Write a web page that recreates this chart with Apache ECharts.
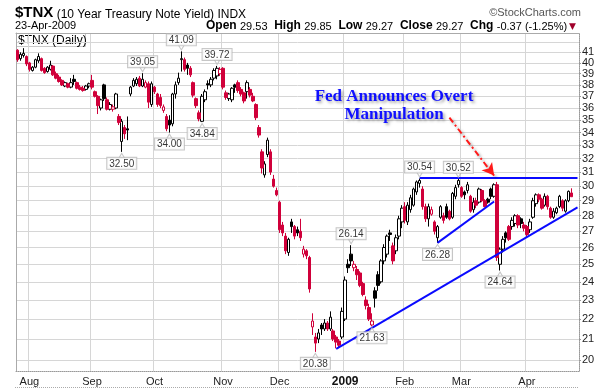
<!DOCTYPE html>
<html><head><meta charset="utf-8">
<script src="https://cdn.jsdelivr.net/npm/echarts@6/dist/echarts.min.js"></script>
<style>html,body{margin:0;padding:0;background:#fff}#c{width:604px;height:388px}</style>
</head><body><div id="c"></div>
<script>
// ---- trading calendar (categories) ----
const tradingDays = [
  ['2008-07', [28,29,30,31]],
  ['2008-08', [1,4,5,6,7,8,11,12,13,14,15,18,19,20,21,22,25,26,27,28,29]],
  ['2008-09', [2,3,4,5,8,9,10,11,12,15,16,17,18,19,22,23,24,25,26,29,30]],
  ['2008-10', [1,2,3,6,7,8,9,10,13,14,15,16,17,20,21,22,23,24,27,28,29,30,31]],
  ['2008-11', [3,4,5,6,7,10,11,12,13,14,17,18,19,20,21,24,25,26,28]],
  ['2008-12', [1,2,3,4,5,8,9,10,11,12,15,16,17,18,19,22,23,24,26,29,30,31]],
  ['2009-01', [2,5,6,7,8,9,12,13,14,15,16,20,21,22,23,26,27,28,29,30]],
  ['2009-02', [2,3,4,5,6,9,10,11,12,13,17,18,19,20,23,24,25,26,27]],
  ['2009-03', [2,3,4,5,6,9,10,11,12,13,16,17,18,19,20,23,24,25,26,27,30,31]],
  ['2009-04', [1,2,3,6,7,8,9,13,14,15,16,17,20,21,22,23]]
];
const monthNames = ['Jan','Feb','Mar','Apr','May','Jun','Jul','Aug','Sep','Oct','Nov','Dec'];

// ---- daily OHLC of $TNX (yield x10) ----
const opens = [
 41.2,40.4,40.7,40.6,
 40.0,39.3,39.6,40.2,40.4,39.5,39.2,39.4,39.7,39.0,38.7,38.4,37.9,38.1,37.8,38.5,38.2,37.8,37.7,37.6,37.9,
 38.4,37.4,37.0,36.0,38.0,36.7,35.9,35.9,36.0,35.3,33.3,34.4,34.3,37.2,37.9,38.1,38.6,37.9,37.8,38.1,36.3,
 37.8,37.2,36.9,35.8,35.3,35.0,34.7,37.2,38.2,40.3,40.3,39.8,39.5,38.2,36.8,35.6,34.9,36.7,38.1,38.0,38.6,38.8,39.0,
 39.5,37.3,36.8,36.7,38.0,38.2,37.6,37.3,37.4,37.6,37.0,36.3,34.4,32.5,30.8,32.3,32.5,30.5,29.7,
 28.9,27.4,26.7,25.7,27.6,27.3,27.1,27.0,25.6,25.8,25.4,21.6,21.1,21.0,21.7,21.5,21.8,21.5,21.4,21.1,20.9,21.1,
 22.0,25.0,25.6,24.8,24.7,24.5,23.9,23.0,22.6,21.7,23.5,24.4,24.0,25.2,25.6,26.9,26.1,25.8,26.7,27.6,
 28.6,27.6,28.4,28.7,29.6,30.2,29.8,28.6,27.8,28.1,27.6,26.6,27.9,28.0,28.6,28.3,27.9,29.3,30.1,
 29.9,29.6,29.7,29.3,28.4,29.0,28.9,29.7,29.0,29.1,29.8,29.3,30.1,25.0,25.9,26.9,27.3,27.3,27.5,28.0,27.8,27.4,
 27.3,27.1,27.9,28.8,29.4,29.1,28.7,29.3,28.5,27.9,28.2,28.6,29.0,28.3,29.0,29.53
];
const highs = [
 41.3,41.0,41.4,40.7,
 40.1,39.7,40.4,40.9,40.5,39.6,39.7,40.2,39.8,39.2,38.9,38.5,38.3,38.2,38.6,38.9,38.3,38.0,37.9,38.0,38.2,
 38.9,37.5,37.1,36.8,38.1,36.9,36.5,36.3,37.3,35.5,35.1,34.6,35.3,37.9,38.6,38.7,38.8,39.05,38.4,38.3,38.3,
 37.9,37.3,37.2,36.3,35.5,35.4,37.3,38.3,39.1,41.09,40.5,40.0,39.7,38.3,36.9,35.8,37.2,37.6,38.4,38.7,39.5,39.72,39.6,
 39.6,37.5,37.3,37.8,38.1,38.4,37.8,37.4,38.4,37.8,37.3,36.4,34.6,32.7,31.8,33.6,32.7,30.8,29.9,
 29.0,27.6,26.9,26.6,27.8,27.4,27.3,27.8,26.1,25.9,25.5,22.3,21.3,21.5,21.8,22.0,21.9,22.4,21.5,21.2,21.0,22.6,
 24.3,25.3,26.14,25.2,24.9,24.6,24.0,23.2,22.8,22.3,23.7,24.6,25.3,26.2,26.8,27.1,26.3,26.8,28.0,28.7,
 28.9,28.9,29.4,29.9,30.4,30.54,30.0,28.8,28.8,28.6,27.7,27.4,28.7,28.2,28.8,28.4,29.6,30.1,30.52,
 30.0,29.7,30.3,29.4,29.2,29.2,29.9,29.8,29.1,29.2,29.9,30.2,30.3,26.0,26.7,27.0,27.4,27.9,28.1,28.1,27.9,27.6,
 27.4,27.8,29.2,29.5,29.5,29.2,29.5,29.4,28.6,28.5,28.6,29.4,29.1,29.1,29.7,29.85
];
const lows = [
 40.1,40.2,40.5,39.7,
 39.2,39.2,39.5,40.0,39.2,39.0,39.1,39.3,38.8,38.5,38.2,37.9,37.8,37.7,37.7,38.0,37.6,37.5,37.4,37.5,37.7,
 37.6,36.9,35.5,35.8,36.6,35.8,35.8,35.7,35.9,34.6,32.5,33.5,33.4,37.0,37.8,37.9,37.8,37.8,37.7,36.0,36.1,
 37.2,36.1,36.0,35.6,34.1,34.0,34.5,36.8,38.0,39.2,39.2,38.9,38.7,36.9,36.0,34.9,34.84,36.5,37.6,37.8,38.4,38.5,38.8,
 37.6,36.7,36.6,36.5,37.3,37.3,37.0,36.4,36.8,36.9,36.5,35.0,33.6,30.9,30.6,32.1,30.8,29.9,29.3,
 26.9,26.7,25.6,25.5,26.9,26.5,26.7,26.4,25.4,25.3,23.4,21.2,20.38,20.8,21.2,21.4,21.4,21.4,20.9,20.55,20.6,21.0,
 21.9,24.5,24.9,24.6,24.1,23.7,23.2,22.5,21.9,21.63,22.6,23.5,23.9,25.0,25.4,26.4,25.0,25.6,26.5,27.2,
 27.5,27.4,28.2,28.6,29.4,29.9,28.4,27.6,27.3,28.0,26.8,26.28,27.8,27.5,27.8,27.7,27.8,29.1,29.9,
 29.2,29.1,29.5,28.2,28.2,28.5,28.8,28.9,28.55,28.8,29.1,29.2,25.2,24.64,25.7,26.3,26.4,27.1,27.3,27.2,27.2,27.0,
 26.6,26.9,27.8,28.6,28.9,28.4,28.6,28.4,27.8,27.8,28.1,28.5,28.3,28.2,28.9,29.27
];
const closes = [
 40.3,40.8,40.9,39.9,
 39.4,39.6,40.3,40.6,39.3,39.1,39.6,39.8,38.9,38.6,38.3,38.0,38.2,37.8,38.2,38.3,37.7,37.6,37.5,37.9,38.1,
 37.8,37.0,36.2,36.7,36.8,35.9,36.3,36.1,37.2,34.8,34.9,33.9,34.2,37.8,38.4,38.5,37.9,38.5,38.2,36.5,38.1,
 37.4,36.3,36.2,36.1,34.3,34.6,37.2,38.0,38.6,40.4,39.4,39.5,38.9,37.1,36.2,35.1,37.0,37.4,38.0,38.5,39.3,39.5,39.4,
 37.8,36.9,37.2,37.7,37.8,37.5,37.2,36.6,38.2,37.1,36.6,35.2,33.8,31.3,31.6,33.4,31.0,30.0,29.4,
 27.1,26.9,25.8,26.5,27.3,26.7,26.9,26.6,25.9,25.5,23.6,21.9,20.8,21.3,21.5,21.8,21.5,22.1,21.0,20.85,20.7,22.4,
 24.1,24.8,25.2,25.0,24.4,23.8,23.3,22.7,22.0,21.9,23.1,23.8,25.2,26.0,26.7,26.8,25.2,26.6,27.8,28.5,
 27.7,28.7,29.2,29.8,30.3,30.4,28.6,27.8,28.6,28.4,27.0,27.3,28.6,27.7,27.9,27.8,29.5,29.9,30.4,
 29.3,29.4,30.1,28.3,28.9,28.7,29.8,29.0,28.6,28.9,29.3,30.1,25.4,25.9,26.5,26.6,26.5,27.7,28.0,27.4,27.5,27.2,
 26.8,27.6,29.0,29.4,29.1,28.5,29.3,28.6,27.9,28.3,28.5,29.3,28.5,29.0,29.64,29.27
];
const priorClose = 41.4;

// ---- right axis tick labels ----
const yTickLabels = [20,21,22,23,24,25,26,27,28,29,30,31,32,33,34,35,36,37,38,39,40,41,42];

// ---- labelled highs / lows ----
const calloutIdx   = [55, 42, 35, 51, 62, 67, 112, 100, 119, 135, 148, 141, 162];
const calloutValue = [41.09, 39.05, 32.50, 34.00, 34.84, 39.72, 26.14, 20.38, 21.63, 30.54, 30.52, 26.28, 24.64];
const calloutSide  = ['top','top','bottom','bottom','bottom','top','top','bottom','bottom','top','top','bottom','bottom'];

// ---- drawn trend lines [startIdx, startVal, endIdx, endVal] ----
const trendLines = [
  [135, 30.57, 188, 30.57],
  [107, 20.52, 188, 28.55],
  [141, 26.28, 160, 28.95]
];
const arrowLine = [145, 35.2, 160, 30.75];

// ================= build =================
const ln = Math.log;
const categories = [];
tradingDays.forEach(([ym, days]) => days.forEach(d => categories.push(ym + '-' + String(d).padStart(2, '0'))));
const nDays = categories.length;
categories.push('pad0', 'pad1');
const monthStart = new Set();
for (let i = 1; i < nDays; i++) if (categories[i].slice(0, 7) !== categories[i - 1].slice(0, 7)) monthStart.add(i);

const blackData = [], redData = [];
for (let i = 0; i < nDays; i++) {
  const prev = i === 0 ? priorClose : closes[i - 1];
  const row = [ln(opens[i]), ln(closes[i]), ln(lows[i]), ln(highs[i])];
  if (closes[i] >= prev) { blackData.push(row); redData.push('-'); }
  else { redData.push(row); blackData.push('-'); }
}
const yMin = ln(19.49), yMax = ln(42.89);
const yTicks = yTickLabels.map(v => ln(v));
const RED = '#d0003a';

const calloutTop = [], calloutBottom = [];
calloutIdx.forEach((ix, k) => {
  const item = { value: [ix, ln(calloutValue[k])], txt: calloutValue[k].toFixed(2) };
  (calloutSide[k] === 'top' ? calloutTop : calloutBottom).push(item);
});

const labelStyle = {
  show: true, formatter: p => p.data.txt, fontSize: 10, fontFamily: 'Liberation Sans, Arial',
  color: '#000', backgroundColor: '#fff', borderColor: '#b8b8b8', borderWidth: 1,
  padding: [1, 2, 0, 2], lineHeight: 10, distance: 6
};

const chart = echarts.init(document.getElementById('c'), null, { renderer: 'canvas' });
chart.setOption({
  animation: false,
  backgroundColor: '#fff',
  textStyle: { fontFamily: 'Liberation Sans, Arial' },
  grid: { left: 16, right: 25, top: 33, bottom: 16, containLabel: false },
  xAxis: [{
    type: 'category', data: categories, boundaryGap: true, position: 'bottom',
    axisLine: { show: true, lineStyle: { color: '#999', type: 'dotted' } },
    axisTick: { show: false },
    axisLabel: {
      interval: i => monthStart.has(i), margin: 5, fontSize: 11, color: '#222',
      formatter: v => v.startsWith('2009-01') ? '{b|2009}' : monthNames[parseInt(v.slice(5, 7), 10) - 1],
      rich: { b: { fontWeight: 'bold', fontSize: 12, color: '#111' } }
    },
    splitLine: { show: true, interval: i => monthStart.has(i), lineStyle: { color: '#d6d6d6', width: 1 } }
  }, {
    type: 'category', data: categories, boundaryGap: true, position: 'top',
    axisLine: { show: true, lineStyle: { color: '#aaa' } },
    axisTick: { show: false }, axisLabel: { show: false }, splitLine: { show: false }
  }],
  yAxis: [{
    type: 'value', position: 'right', min: yMin, max: yMax, scale: true,
    axisLine: { show: true, lineStyle: { color: '#999', type: 'dotted' } },
    axisTick: { show: true, length: 2, customValues: yTicks, lineStyle: { color: '#999' } },
    axisLabel: { customValues: yTicks, formatter: v => String(Math.round(Math.exp(v))), fontSize: 11, color: '#222', margin: 3 },
    splitLine: { show: true, lineStyle: { color: '#d6d6d6', width: 1 } }
  }, {
    type: 'value', position: 'left', min: yMin, max: yMax,
    axisLine: { show: true, lineStyle: { color: '#aaa' } },
    axisTick: { show: false }, axisLabel: { show: false }, splitLine: { show: false }
  }],
  series: [
    {
      name: 'up', type: 'candlestick', data: blackData, barWidth: 3,
      itemStyle: { color: '#fff', color0: '#000', borderColor: '#000', borderColor0: '#000', borderWidth: 1 },
      markLine: {
        silent: true, symbol: ['none', 'none'], label: { show: false },
        lineStyle: { color: '#0a0aff', width: 2, type: 'solid' },
        data: trendLines.map(t => [{ coord: [t[0], ln(t[1])] }, { coord: [t[2], ln(t[3])] }])
      }
    },
    {
      name: 'down', type: 'candlestick', data: redData, barWidth: 3,
      itemStyle: { color: '#fff', color0: RED, borderColor: RED, borderColor0: RED, borderWidth: 1 },
      markLine: {
        silent: true, symbol: ['none', 'arrow'], symbolSize: [10, 12], label: { show: false },
        lineStyle: { color: '#ff1a1a', width: 2, type: [6, 3, 2, 3], shadowColor: 'rgba(0,0,0,0.35)', shadowBlur: 3, shadowOffsetX: 2, shadowOffsetY: 2 },
        data: [[{ coord: [arrowLine[0], ln(arrowLine[1])] }, { coord: [arrowLine[2], ln(arrowLine[3])] }]]
      }
    },
    {
      type: 'scatter', data: calloutTop, symbol: 'triangle', symbolSize: [6, 5], symbolRotate: 180,
      symbolOffset: [0, -4], itemStyle: { color: '#fff', borderColor: '#b8b8b8', borderWidth: 1 }, silent: true, z: 5
    },
    {
      type: 'scatter', data: calloutBottom, symbol: 'triangle', symbolSize: [6, 5],
      symbolOffset: [0, 4], itemStyle: { color: '#fff', borderColor: '#b8b8b8', borderWidth: 1 }, silent: true, z: 5
    },
    {
      type: 'scatter', data: calloutTop, symbolSize: 0, silent: true, z: 6,
      label: Object.assign({}, labelStyle, { position: 'top' })
    },
    {
      type: 'scatter', data: calloutBottom, symbolSize: 0, silent: true, z: 6,
      label: Object.assign({}, labelStyle, { position: 'bottom' })
    }
  ],
  graphic: [
    { type: 'text', x: 15, y: 13, z: 100, style: {
        text: '{a|$TNX} {b|(10 Year Treasury Note Yield) INDX}', verticalAlign: 'middle',
        rich: { a: { font: 'bold 15px "Liberation Sans"', fill: '#000', verticalAlign: 'bottom' },
                b: { font: '12px "Liberation Sans"', fill: '#000', verticalAlign: 'bottom' } } } },
    { type: 'text', x: 581, y: 13, z: 100, style: { text: '©StockCharts.com', font: '11px "Liberation Sans"', fill: '#555', align: 'right', verticalAlign: 'middle' } },
    { type: 'text', x: 15, y: 26, z: 100, style: { text: '23-Apr-2009', font: '11px "Liberation Sans"', fill: '#000', verticalAlign: 'middle' } },
    { type: 'text', x: 576, y: 26, z: 100, style: {
        text: '{k|Open} {v|29.53}  {k|High} {v|29.85}  {k|Low} {v|29.27}  {k|Close} {v|29.27}  {k|Chg} {v|-0.37 (-1.25%)}{t|▼}',
        align: 'right', verticalAlign: 'middle',
        rich: { k: { font: 'bold 12px "Liberation Sans"', fill: '#000', verticalAlign: 'bottom' },
                v: { font: '11px "Liberation Sans"', fill: '#000', verticalAlign: 'bottom' },
                t: { font: '9px "DejaVu Sans"', fill: '#a0002a', verticalAlign: 'bottom', padding: [0, 0, 1, 2] } } } },
    { type: 'group', z: 100, children: [
        { type: 'rect', shape: { x: 16.5, y: 33.5, width: 69, height: 13 }, style: { fill: '#fff', stroke: '#c8c8c8', lineWidth: 1 } },
        { type: 'text', x: 18, y: 40.5, style: { text: '$TNX (Daily)', font: '12px "Liberation Sans"', fill: '#000', verticalAlign: 'middle' } }
    ] },
    { type: 'text', x: 394, y: 106, z: 100, style: {
        text: 'Fed Announces Overt\nManipulation', font: 'bold 17px "Liberation Serif"', fill: '#1010ff',
        align: 'center', verticalAlign: 'middle', lineHeight: 18,
        textShadowColor: 'rgba(0,0,0,0.35)', textShadowBlur: 3, textShadowOffsetX: 2, textShadowOffsetY: 2 } },
    { type: 'line', z: 100, shape: { x1: 15, y1: 387.5, x2: 579, y2: 387.5 }, style: { stroke: '#aaa', lineWidth: 1, lineDash: [1, 1] } }
  ]
});
</script>
</body></html>
